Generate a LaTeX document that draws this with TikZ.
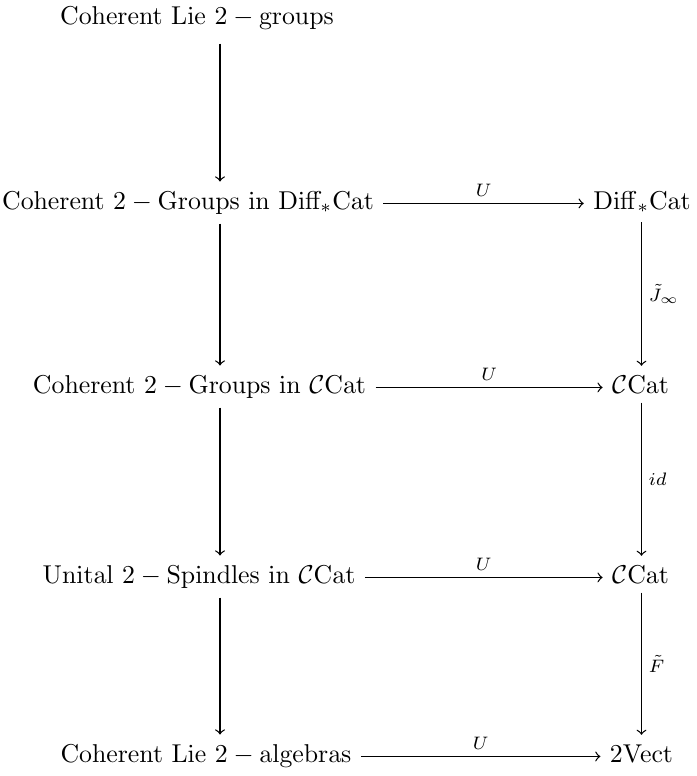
\documentclass[tikz,border=0pt]{standalone}
\usepackage{amsmath}
\begin{document}
\begin{tikzpicture}[x=0.3876pt,y=-0.3876pt,
  obj/.style={anchor=base,inner sep=3.5pt},
  arr/.style={->,line width=0.5pt},
  lab/.style={font=\scriptsize,inner sep=2.5pt}]
\useasboundingbox (0,0) rectangle (697,776);
% left column
\node[obj] (a1) at (197,24) {$\mathrm{Coherent\ Lie\ 2-groups}$};
\node[obj] (a2) at (188,209) {$\mathrm{Coherent\ 2-Groups\ in\ Diff_{\ast}Cat}$};
\node[obj] (a3) at (199.5,393) {$\mathrm{Coherent\ 2-Groups\ in\ }\mathcal{C}\mathrm{Cat}$};
\node[obj] (a4) at (199,583) {$\mathrm{Unital\ 2-Spindles\ in\ }\mathcal{C}\mathrm{Cat}$};
\node[obj] (a5) at (206,762) {$\mathrm{Coherent\ Lie\ 2-algebras}$};
% right column
\node[obj] (b2) at (642,209) {$\mathrm{Diff}_{\ast}\mathrm{Cat}$};
\node[obj] (b3) at (640.5,393) {$\mathcal{C}\mathrm{Cat}$};
\node[obj] (b4) at (640.5,583) {$\mathcal{C}\mathrm{Cat}$};
\node[obj] (b5) at (641.5,762) {$\mathrm{2Vect}$};
\coordinate (cL) at (220,0);
\coordinate (cR) at (641.5,0);
% vertical arrows
\draw[arr] ([yshift=-2pt]a1.south -| cL) -- (a2.north -| cL);
\draw[arr] (a2.south -| cL) -- (a3.north -| cL);
\draw[arr] (a3.south -| cL) -- (a4.north -| cL);
\draw[arr] (a4.south -| cL) -- (a5.north -| cL);
\draw[arr] (b2.south -| cR) -- node[lab,right] {$\tilde{J}_{\infty}$} (b3.north -| cR);
\draw[arr] (b3.south -| cR) -- node[lab,right] {$id$} (b4.north -| cR);
\draw[arr] (b4.south -| cR) -- node[lab,right] {$\tilde{F}$} (b5.north -| cR);
% horizontal arrows
\draw[arr] (a2.mid east) -- node[lab,above] {$U$} (b2.mid west);
\draw[arr] (a3.mid east) -- node[lab,above] {$U$} (b3.mid west);
\draw[arr] (a4.mid east) -- node[lab,above] {$U$} (b4.mid west);
\draw[arr] (a5.mid east) -- node[lab,above] {$U$} (b5.mid west);
\end{tikzpicture}
\end{document}
